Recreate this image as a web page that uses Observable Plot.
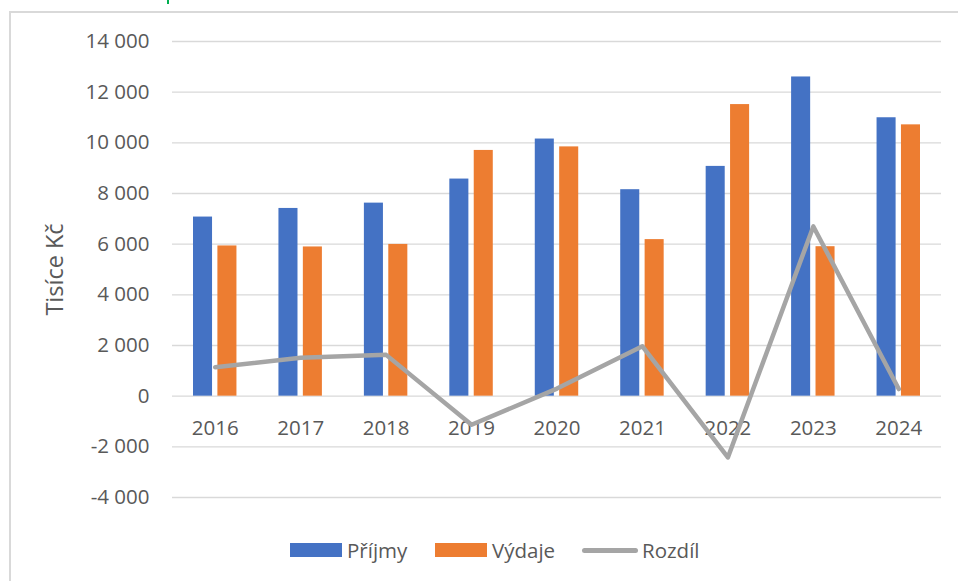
<!DOCTYPE html>
<html>
<head>
<meta charset="utf-8">
<script src="https://cdn.jsdelivr.net/npm/d3@7"></script>
<script src="https://cdn.jsdelivr.net/npm/@observablehq/plot@0.6"></script>
<style>
  html, body { margin: 0; padding: 0; background: #fff; }
  #wrap { position: relative; width: 958px; height: 581px; overflow: hidden; font-family: "Open Sans", sans-serif; color: #595959; }
  #frame { position: absolute; left: 9px; top: 11px; width: 960px; height: 580px; border-left: 2px solid #D9D9D9; border-top: 2px solid #D9D9D9; }
  #chart { position: absolute; left: 0; top: 0; }
  .leg { position: absolute; top: 536px; display: flex; align-items: center; font-size: 20.5px; line-height: 28px; }
  .sw { width: 52px; height: 14px; margin-right: 5px; }
  .ln { width: 56px; height: 5px; border-radius: 3px; margin-right: 4px; background: #A5A5A5; }
  #green { position: absolute; left: 167px; top: 0; width: 2px; height: 4px; background: #00B050; }
</style>
</head>
<body>
<div id="wrap">
  <div id="green"></div>
  <div id="frame"></div>
  <div id="chart"></div>
  <div id="legend"></div>
</div>
<script>
const years = ["2016", "2017", "2018", "2019", "2020", "2021", "2022", "2023", "2024"];
const prijmy = [7070, 7410, 7620, 8570, 10150, 8150, 9070, 12600, 10990];
const vydaje = [5930, 5890, 5990, 9700, 9840, 6180, 11510, 5900, 10710];
const rozdil = [1140, 1520, 1630, -1130, 300, 1970, -2420, 6700, 280];
const yTicks = [-4000, -2000, 0, 2000, 4000, 6000, 8000, 10000, 12000, 14000];
const seriesNames = ["Příjmy", "Výdaje", "Rozdíl"];
const seriesColors = ["#4472C4", "#ED7D31", "#A5A5A5"];

const rows = years.map((y, i) => ({year: y, prijmy: prijmy[i], vydaje: vydaje[i], rozdil: rozdil[i]}));
const fmt = d3.formatLocale({decimal: ",", thousands: " ", grouping: [3], currency: ["", ""], minus: "-"}).format(",");

const chart = Plot.plot({
  width: 958,
  height: 520,
  marginTop: 41,
  marginBottom: 23,
  marginLeft: 172,
  marginRight: 17,
  style: {fontFamily: "Open Sans, sans-serif", fontSize: "20.5px", color: "#595959", background: "transparent", overflow: "visible"},
  x: {type: "band", domain: years, padding: 0, round: false, axis: null},
  y: {domain: [-4000, 14000], ticks: yTicks, label: null},
  marks: [
    Plot.gridY(yTicks, {stroke: "#D9D9D9", strokeOpacity: 1, strokeWidth: 1.4}),
    Plot.axisY(yTicks, {tickSize: 0, tickPadding: 23, tickFormat: fmt, fontSize: 20.5, label: null}),
    Plot.axisY({ticks: [], tickSize: 0, label: "Tisíce Kč", labelAnchor: "center", labelArrow: "none", labelOffset: 126, fontSize: 23.5}),
    Plot.barY(rows, {x: "year", y: "prijmy", fill: seriesColors[0], insetLeft: 33.2, insetRight: 33.2, dx: -12.2}),
    Plot.barY(rows, {x: "year", y: "vydaje", fill: seriesColors[1], insetLeft: 33.2, insetRight: 33.2, dx: 12.2}),
    Plot.text(years, {x: d => d, y: () => 0, dy: 32, text: d => d, fontSize: 20.5, fill: "#595959"}),
    Plot.line(rows, {x: "year", y: "rozdil", stroke: seriesColors[2], strokeWidth: 4.5, strokeLinecap: "round", strokeLinejoin: "round"})
  ]
});
document.getElementById("chart").appendChild(chart);

const legendLefts = [290, 435, 582];
const legend = document.getElementById("legend");
seriesNames.forEach((name, i) => {
  const item = document.createElement("div");
  item.className = "leg";
  item.style.left = legendLefts[i] + "px";
  const sw = document.createElement("div");
  sw.className = i < 2 ? "sw" : "ln";
  sw.style.background = seriesColors[i];
  item.appendChild(sw);
  const t = document.createElement("span");
  t.textContent = name;
  item.appendChild(t);
  legend.appendChild(item);
});
</script>
</body>
</html>
